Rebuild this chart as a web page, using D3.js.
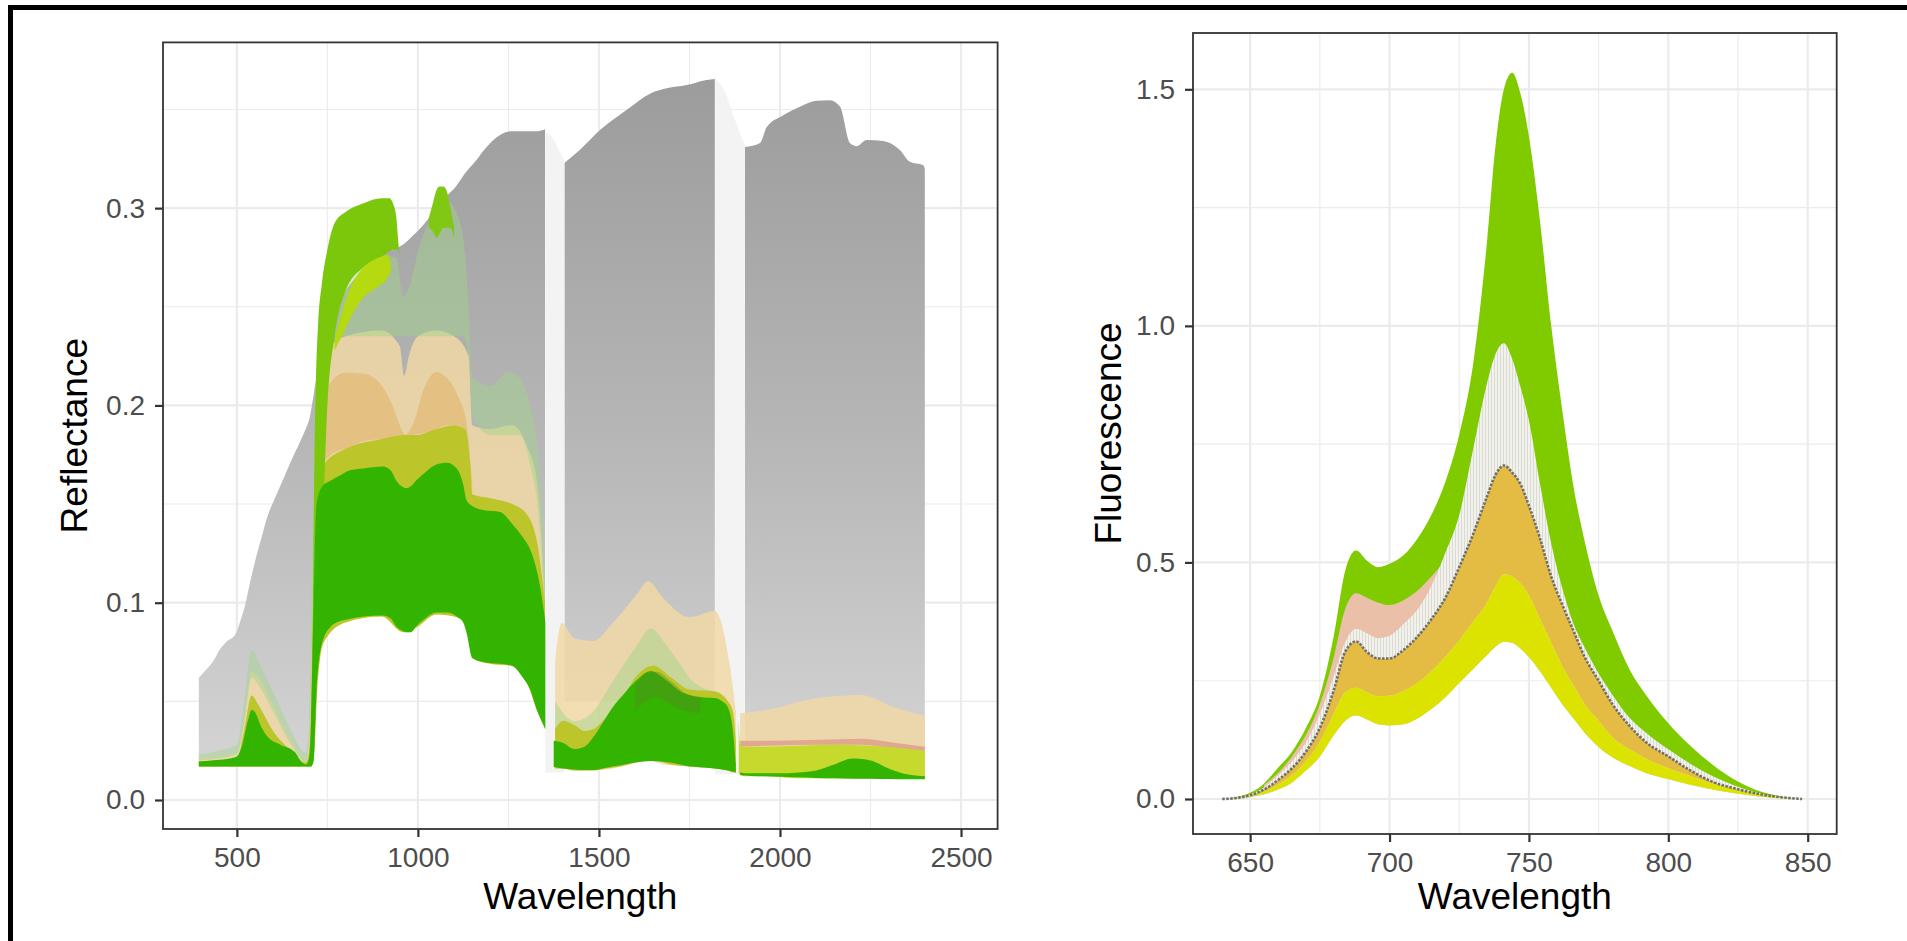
<!DOCTYPE html>
<html>
<head>
<meta charset="utf-8">
<script src="https://cdn.jsdelivr.net/npm/d3@7"></script>
<style>
  body { margin: 0; background: #fff; }
  text { font-family: "Liberation Sans", Arial, sans-serif; }
</style>
</head>
<body>
<script>
// ---------- reflectance panel data (wavelength, ribbon low / high) ----------
var grayWl = [395,410,425,440,452,470,496,510,523,536,549,565,585,605,629,650,673,690,700,717,
  730,744,770,797,820,850,880,902,930,955,980,1008,1040,1079,1105,1132,1160,1185,1226,1260,
  1300,1330,1351,1352,1405,1447,1503,1576,1641,1687,1742,1797,1820,1821,1903,1945,1963,2008,2055,2101,
  2138,2166,2193,2212,2239,2285,2331,2359,2395,2400];
var grayHi = [.062,.065,.068,.072,.076,.080,.084,.091,.099,.110,.120,.131,.144,.153,.163,.172,.181,.188,.193,.211,
  .224,.236,.248,.257,.263,.269,.273,.277,.279,.281,.285,.290,.297,.306,.311,.318,.324,.330,.337,.339,
  .339,.339,.340,null,.323,.3295,.3396,.3497,.358,.3607,.3624,.365,.3655,null,.331,.333,.341,.347,.3514,.3544,
  .3547,.3514,.333,.3314,.3345,.334,.3295,.3235,.3218,.320];
var grayLo = [.017,.017,.017,.017,.017,.017,.017,.017,.017,.017,.017,.017,.017,.017,.017,.017,.017,.017,.017,.045,
  .10,.10,.10,.10,.10,.10,.10,.10,.10,.10,.10,.10,.10,.10,.10,.10,.10,.10,.10,.10,
  .085,.07,.05,null,.05,.05,.05,.05,.05,.05,.05,.05,.05,null,.025,.025,.025,.025,.025,.025,
  .025,.025,.025,.025,.025,.025,.025,.025,.025,.025];

var gap1Wl = [1352,1370,1388,1404], gap1Hi = [.339,.336,.330,.324], gap1Lo = [.014,.014,.014,.014];
var gap2Wl = [1821,1850,1875,1902], gap2Hi = [.366,.358,.345,.332], gap2Lo = [.013,.013,.013,.013];

var beigeWl = [395,450,500,520,541,560,600,650,690,700,712,722,740,800,900,950,962,975,1000,1050,
  1100,1140,1150,1200,1260,1300,1330,1351,1352,1379,1397,1432,1485,1538,1608,1635,1679,1750,1820,1860,
  1878,1879,1890,1962,2103,2226,2315,2400];
var beigeHi = [.021,.022,.024,.04,.065,.062,.048,.03,.02,.03,.12,.20,.225,.235,.238,.23,.215,.225,.235,.238,
  .235,.225,.19,.188,.19,.18,.16,.10,null,.07,.0897,.082,.0806,.0897,.105,.111,.102,.0927,.0958,.07,
  .045,null,.044,.0456,.0517,.0532,.047,.0426];
var beigeLo = [.017,.017,.017,.017,.017,.017,.017,.017,.017,.017,.02,.06,.085,.092,.093,.087,.085,.085,.088,.094,
  .093,.087,.072,.069,.068,.06,.045,.036,null,.016,.016,.015,.015,.016,.019,.02,.018,.017,.016,.015,
  .014,null,.013,.012,.011,.011,.011,.0106];

var mistWl = [395,450,500,520,541,560,600,650,690,700,712,722,740,760,800,850,900,940,960,980,
  1000,1040,1070,1100,1125,1140,1150,1200,1250,1280,1310,1335,1351,1352,1379,1432,1485,1538,1600,1644,
  1680,1720,1760,1820];
var mistHi = [.023,.025,.028,.05,.076,.07,.055,.035,.024,.04,.17,.215,.24,.25,.262,.27,.276,.275,.255,.262,
  .278,.296,.305,.30,.285,.25,.214,.21,.217,.214,.20,.17,.12,null,.05,.04,.045,.06,.077,.087,
  .08,.07,.06,.055];
var mistLo = [.020,.021,.023,.038,.062,.058,.045,.028,.019,.03,.12,.20,.225,.235,.235,.235,.235,.235,.235,.235,
  .235,.235,.235,.235,.235,.225,.195,.185,.185,.185,.17,.14,.09,null,.03,.03,.03,.035,.04,.045,
  .045,.04,.035,.03];

var orangeWl = [722,740,760,800,850,900,930,950,965,985,1020,1050,1080,1110,1135,1150];
var orangeHi = [.15,.20,.212,.2165,.216,.21,.20,.19,.185,.19,.21,.217,.214,.205,.19,.16];
var orangeLo = [.12,.17,.175,.178,.182,.183,.184,.185,.184,.185,.186,.188,.19,.19,.185,.155];

var salmonWl = [1890,1962,2103,2226,2315,2400];
var salmonHi = [.030,.030,.0305,.031,.029,.027];
var salmonLo = [.027,.0275,.028,.028,.026,.024];

var oliveWl = [395,450,500,520,541,560,600,650,690,700,705,712,722,740,800,900,960,1000,1050,1100,
  1130,1145,1150,1200,1260,1300,1330,1351,1352,1379,1400,1432,1460,1485,1520,1560,1600,1650,1700,1750,
  1820,1856,1870,1878];
var oliveHi = [.0195,.020,.021,.035,.053,.048,.035,.025,.019,.025,.05,.11,.162,.17,.178,.183,.185,.185,.188,.19,
  .188,.17,.155,.153,.15,.145,.13,.10,null,.036,.04,.038,.035,.036,.042,.05,.062,.068,.062,.056,
  .055,.05,.045,.03];
var oliveLo = [.017,.017,.017,.017,.017,.017,.017,.017,.017,.017,.017,.02,.055,.08,.09,.093,.085,.088,.094,.093,
  .09,.085,.072,.069,.068,.06,.045,.036,null,.016,.016,.015,.015,.015,.016,.017,.019,.02,.018,.017,
  .016,.015,.014,.014];

// yellow-green ribbon past the second water band
var ylWl = [1886,1890,1900,1962,2050,2150,2250,2350,2400];
var ylHi = [.04,.028,.027,.027,.0275,.028,.0275,.026,.025];
var ylLo = [.013,.013,.012,.012,.011,.011,.011,.011,.0106];

var limeWl = [706,710,714,718,724,735,750,770,800,850,900,921,932,940,945,949];
var limeHi = [.03,.10,.17,.21,.24,.262,.279,.2924,.298,.3025,.305,.305,.302,.296,.285,.275];
var limeLo = [.018,.02,.04,.08,.10,.13,.20,.235,.258,.27,.2755,.278,.279,.279,.279,.275];
var lime2Wl = [1030,1042,1051,1060,1070,1079,1090,1100];
var lime2Hi = [.295,.303,.309,.311,.311,.309,.30,.29];
var lime2Lo = [.29,.288,.285,.287,.29,.29,.29,.285];

var ygWl = [770,790,810,850,880,903,917,925];
var ygHi = [.233,.247,.258,.27,.274,.2756,.2764,.272];
var ygLo = [.228,.235,.243,.255,.259,.262,.265,.268];

var darkWl = [395,430,480,500,515,530,541,552,565,585,620,660,680,692,700,705,712,720,736,760,
  790,810,850,903,925,940,955,968,980,995,1020,1051,1080,1107,1125,1134,1150,1180,1227,1260,
  1290,1310,1330,1347,1352,1353,1375,1400,1432,1460,1485,1510,1538,1570,1600,1644,1670,1697,1725,1750,
  1790,1820,1840,1856,1870,1878,1879,1890,1920,1960,2000,2050,2100,2150,2200,2250,2300,2350,2400];
var darkHi = [.0195,.020,.021,.022,.028,.040,.0456,.044,.038,.032,.028,.0243,.019,.018,.022,.04,.10,.15,.159,.162,
  .165,.167,.168,.169,.167,.162,.159,.158,.159,.162,.166,.170,.171,.168,.16,.152,.149,.147,.146,.14,
  .133,.127,.115,.097,.09,null,.03,.029,.0258,.027,.032,.039,.047,.054,.06,.0654,.063,.059,.055,.0532,
  .052,.0517,.05,.047,.035,.018,null,.014,.0135,.0135,.0135,.014,.015,.018,.021,.02,.016,.013,.012];
var darkLo = [.017,.017,.017,.017,.017,.017,.017,.017,.017,.017,.017,.017,.017,.017,.017,.017,.02,.055,.08,.088,
  .091,.0918,.093,.0935,.092,.088,.086,.085,.085,.088,.092,.095,.095,.093,.09,.085,.072,.07,.069,.068,
  .062,.056,.045,.038,.036,null,.0167,.016,.0155,.0152,.0152,.016,.017,.018,.019,.0198,.0195,.019,.018,.017,
  .0165,.016,.0155,.015,.0145,.014,null,.0125,.0122,.012,.0118,.0115,.0112,.011,.0108,.0108,.0106,.0105,.0105];

var shadeWl = [1600,1630,1660,1700,1740,1780];
var shadeHi = [.058,.064,.065,.06,.054,.052];
var shadeLo = [.045,.05,.052,.048,.045,.044];

// ---------- fluorescence panel data ----------
var fluoWl = [640,645,650,655,660,665,670,675,680,684,688,692,696,700,705,710,715,720,725,730,
  735,738,741,744,747,750,754,758,762,766,770,775,780,786,792,800,808,816,824,832,840,848];
var greenTop = [0,.004,.013,.033,.066,.10,.15,.218,.345,.48,.525,.503,.49,.497,.515,.55,.60,.67,.77,.92,
  1.18,1.38,1.50,1.535,1.49,1.40,1.22,1.00,.82,.66,.545,.43,.355,.275,.22,.16,.112,.072,.04,.018,.006,0];
var whiteTop = [0,.003,.01,.025,.05,.08,.12,.18,.26,.33,.36,.35,.34,.345,.37,.40,.45,.52,.60,.74,
  .88,.94,.963,.93,.87,.80,.665,.54,.445,.37,.32,.265,.22,.172,.14,.105,.074,.048,.028,.013,.004,0];
var pinkTop = [null,null,null,.03,.055,.09,.135,.20,.30,.40,.435,.425,.415,.41,.42,.44,.47,.505,.55,.62,
  .68,.70,.71,.70,.68,.64,.57,null,null,null,null,null,null,null,null,null,null,null,null,null,null,null];
var orangeTop = [0,.002,.008,.02,.04,.065,.10,.15,.23,.31,.333,.31,.297,.297,.315,.343,.38,.425,.49,.56,
  .64,.685,.705,.69,.665,.62,.55,.47,.41,.355,.30,.25,.20,.155,.12,.09,.06,.036,.022,.011,.004,0];
var yellowTop = [0,.0015,.006,.015,.03,.05,.08,.12,.18,.225,.235,.225,.217,.218,.228,.245,.27,.30,.335,.375,
  .415,.45,.475,.47,.455,.43,.38,.33,.28,.24,.20,.165,.13,.105,.085,.065,.048,.032,.02,.01,.004,0];
var yellowLo = [0,.001,.004,.01,.02,.035,.06,.09,.135,.165,.177,.168,.158,.156,.158,.17,.19,.215,.245,.275,
  .305,.322,.3325,.33,.318,.30,.27,.235,.20,.17,.14,.11,.088,.07,.055,.042,.03,.02,.012,.006,.002,0];

// ---------- axes ----------
var leftXTicks = [500,1000,1500,2000,2500], leftXMinor = [750,1250,1750,2250];
var leftYTicks = [0,0.1,0.2,0.3], leftYMinor = [0.05,0.15,0.25,0.35];
var rightXTicks = [650,700,750,800,850], rightXMinor = [675,725,775,825];
var rightYTicks = [0,0.5,1.0,1.5], rightYMinor = [0.25,0.75,1.25];

var svg = d3.select("body").append("svg")
  .attr("width", 1907)
  .attr("height", 941);

svg.append("rect").attr("width", 1907).attr("height", 941).attr("fill", "#fff");

var defs = svg.append("defs");

// outer black frame (top + left only)
svg.append("rect").attr("x", 8).attr("y", 5).attr("width", 1899).attr("height", 5).attr("fill", "#000");
svg.append("rect").attr("x", 8).attr("y", 5).attr("width", 5).attr("height", 936).attr("fill", "#000");

function zip(wl, lo, hi) {
  return wl.map(function(w, i) { return {w: w, lo: lo[i], hi: hi[i]}; });
}

function drawPanel(p) {
  var x = d3.scaleLinear().domain(p.xDomain).range([p.left, p.right]);
  var y = d3.scaleLinear().domain(p.yDomain).range([p.bottom, p.top]);
  var g = svg.append("g");

  // grid
  var grid = g.append("g");
  p.xMinor.forEach(function(v) {
    grid.append("line").attr("x1", x(v)).attr("x2", x(v)).attr("y1", p.top).attr("y2", p.bottom)
      .attr("stroke", "#EBEBEB").attr("stroke-width", 1.1);
  });
  p.yMinor.forEach(function(v) {
    grid.append("line").attr("y1", y(v)).attr("y2", y(v)).attr("x1", p.left).attr("x2", p.right)
      .attr("stroke", "#EBEBEB").attr("stroke-width", 1.1);
  });
  p.xTicks.forEach(function(v) {
    grid.append("line").attr("x1", x(v)).attr("x2", x(v)).attr("y1", p.top).attr("y2", p.bottom)
      .attr("stroke", "#EBEBEB").attr("stroke-width", 2.2);
  });
  p.yTicks.forEach(function(v) {
    grid.append("line").attr("y1", y(v)).attr("y2", y(v)).attr("x1", p.left).attr("x2", p.right)
      .attr("stroke", "#EBEBEB").attr("stroke-width", 2.2);
  });

  // clip for data
  defs.append("clipPath").attr("id", p.id + "clip").append("rect")
    .attr("x", p.left).attr("y", p.top).attr("width", p.right - p.left).attr("height", p.bottom - p.top);
  var data = g.append("g").attr("clip-path", "url(#" + p.id + "clip)");

  var area = d3.area()
    .defined(function(d) { return d.hi != null && d.lo != null; })
    .x(function(d) { return x(d.w); })
    .y0(function(d) { return y(d.lo); })
    .y1(function(d) { return y(d.hi); })
    .curve(d3.curveMonotoneX);

  p.layers.forEach(function(l) {
    data.append("path").datum(zip(l.wl, l.lo, l.hi))
      .attr("d", area)
      .attr("fill", l.fill);
  });
  if (p.after) p.after(data, x, y);

  // panel border
  g.append("rect").attr("x", p.left).attr("y", p.top)
    .attr("width", p.right - p.left).attr("height", p.bottom - p.top)
    .attr("fill", "none").attr("stroke", "#333").attr("stroke-width", 1.8);

  // axes
  var xAxis = g.append("g").attr("transform", "translate(0," + p.bottom + ")")
    .call(d3.axisBottom(x).tickValues(p.xTicks).tickFormat(d3.format("d")).tickSize(8).tickPadding(10).tickSizeOuter(0));
  var yAxis = g.append("g").attr("transform", "translate(" + p.left + ",0)")
    .call(d3.axisLeft(y).tickValues(p.yTicks).tickFormat(d3.format(".1f")).tickSize(8).tickPadding(10).tickSizeOuter(0));
  [xAxis, yAxis].forEach(function(a) {
    a.select(".domain").remove();
    a.selectAll(".tick line").attr("stroke", "#333").attr("stroke-width", 2.2);
    a.selectAll(".tick text").attr("fill", "#4D4D4D").style("font-size", "28px")
      .style("font-family", "'Liberation Sans', Arial, sans-serif");
  });

  // titles
  g.append("text")
    .attr("x", (p.left + p.right) / 2)
    .attr("y", 909)
    .attr("text-anchor", "middle")
    .style("font-size", "37px")
    .attr("fill", "#000")
    .text("Wavelength");
  g.append("text")
    .attr("transform", "translate(" + p.yTitleX + "," + ((p.top + p.bottom) / 2) + ") rotate(-90)")
    .attr("text-anchor", "middle")
    .style("font-size", "37px")
    .attr("fill", "#000")
    .text(p.yTitle);
}

// gray gradient for the reflectance background ribbon
var grad = defs.append("linearGradient").attr("id", "grayGrad")
  .attr("gradientUnits", "userSpaceOnUse")
  .attr("x1", 0).attr("x2", 0).attr("y1", 80).attr("y2", 790);
grad.append("stop").attr("offset", "0").attr("stop-color", "#9C9C9C");
grad.append("stop").attr("offset", "0.5").attr("stop-color", "#B6B6B6");
grad.append("stop").attr("offset", "1").attr("stop-color", "#D6D6D6");

// faint vertical hatching for the off-white fluorescence ribbon
var hatch = defs.append("pattern").attr("id", "hatch")
  .attr("patternUnits", "userSpaceOnUse").attr("width", 3).attr("height", 10);
hatch.append("rect").attr("width", 3).attr("height", 10).attr("fill", "#F2F2EC");
hatch.append("rect").attr("width", 0.8).attr("height", 10).attr("fill", "#D6D6CE");

drawPanel({
  id: "refl",
  left: 163, right: 997.6, top: 42.4, bottom: 829,
  xDomain: [296, 2601], yDomain: [-0.0147, 0.384],
  xTicks: leftXTicks, xMinor: leftXMinor, yTicks: leftYTicks, yMinor: leftYMinor,
  yTitle: "Reflectance", yTitleX: 87,
  layers: [
    {wl: grayWl, lo: grayLo, hi: grayHi, fill: "url(#grayGrad)"},
    {wl: gap1Wl, lo: gap1Lo, hi: gap1Hi, fill: "#F3F3F3"},
    {wl: gap2Wl, lo: gap2Lo, hi: gap2Hi, fill: "#F3F3F3"},
    {wl: beigeWl, lo: beigeLo, hi: beigeHi, fill: "rgba(240,216,165,0.85)"},
    {wl: mistWl, lo: mistLo, hi: mistHi, fill: "rgba(160,212,135,0.45)"},
    {wl: orangeWl, lo: orangeLo, hi: orangeHi, fill: "rgba(226,182,105,0.6)"},
    {wl: salmonWl, lo: salmonLo, hi: salmonHi, fill: "#E0A88E"},
    {wl: oliveWl, lo: oliveLo, hi: oliveHi, fill: "#BCC62A"},
    {wl: ylWl, lo: ylLo, hi: ylHi, fill: "#C6DA2E"},
    {wl: limeWl, lo: limeLo, hi: limeHi, fill: "#7AC70C"},
    {wl: lime2Wl, lo: lime2Lo, hi: lime2Hi, fill: "#80C814"},
    {wl: ygWl, lo: ygLo, hi: ygHi, fill: "#B6DA10"},
    {wl: darkWl, lo: darkLo, hi: darkHi, fill: "#33B400"},
    {wl: shadeWl, lo: shadeLo, hi: shadeHi, fill: "rgba(95,125,40,0.35)"}
  ]
});

drawPanel({
  id: "fluo",
  left: 1193, right: 1836.7, top: 33, bottom: 834,
  xDomain: [629.5, 860.4], yDomain: [-0.074, 1.619],
  xTicks: rightXTicks, xMinor: rightXMinor, yTicks: rightYTicks, yMinor: rightYMinor,
  yTitle: "Fluorescence", yTitleX: 1121,
  layers: [
    {wl: fluoWl, lo: yellowLo, hi: greenTop, fill: "#7FCB00"},
    {wl: fluoWl, lo: yellowLo, hi: pinkTop, fill: "#EAC0A9"},
    {wl: fluoWl, lo: yellowLo, hi: whiteTop, fill: "url(#hatch)"},
    {wl: fluoWl, lo: yellowTop, hi: orangeTop, fill: "#E4BC44"},
    {wl: fluoWl, lo: yellowLo, hi: yellowTop, fill: "#DCE300"}
  ],
  after: function(layer, x, y) {
    // dark dotted edge on top of the orange ribbon
    layer.append("path")
      .datum(fluoWl.map(function(w, i) { return {w: w, v: orangeTop[i]}; }))
      .attr("d", d3.line().x(function(d) { return x(d.w); }).y(function(d) { return y(d.v); }).curve(d3.curveMonotoneX))
      .attr("fill", "none")
      .attr("stroke", "#6E6E6E")
      .attr("stroke-width", 2.6)
      .attr("stroke-dasharray", "2.5,1.5");
  }
});
</script>
</body>
</html>
